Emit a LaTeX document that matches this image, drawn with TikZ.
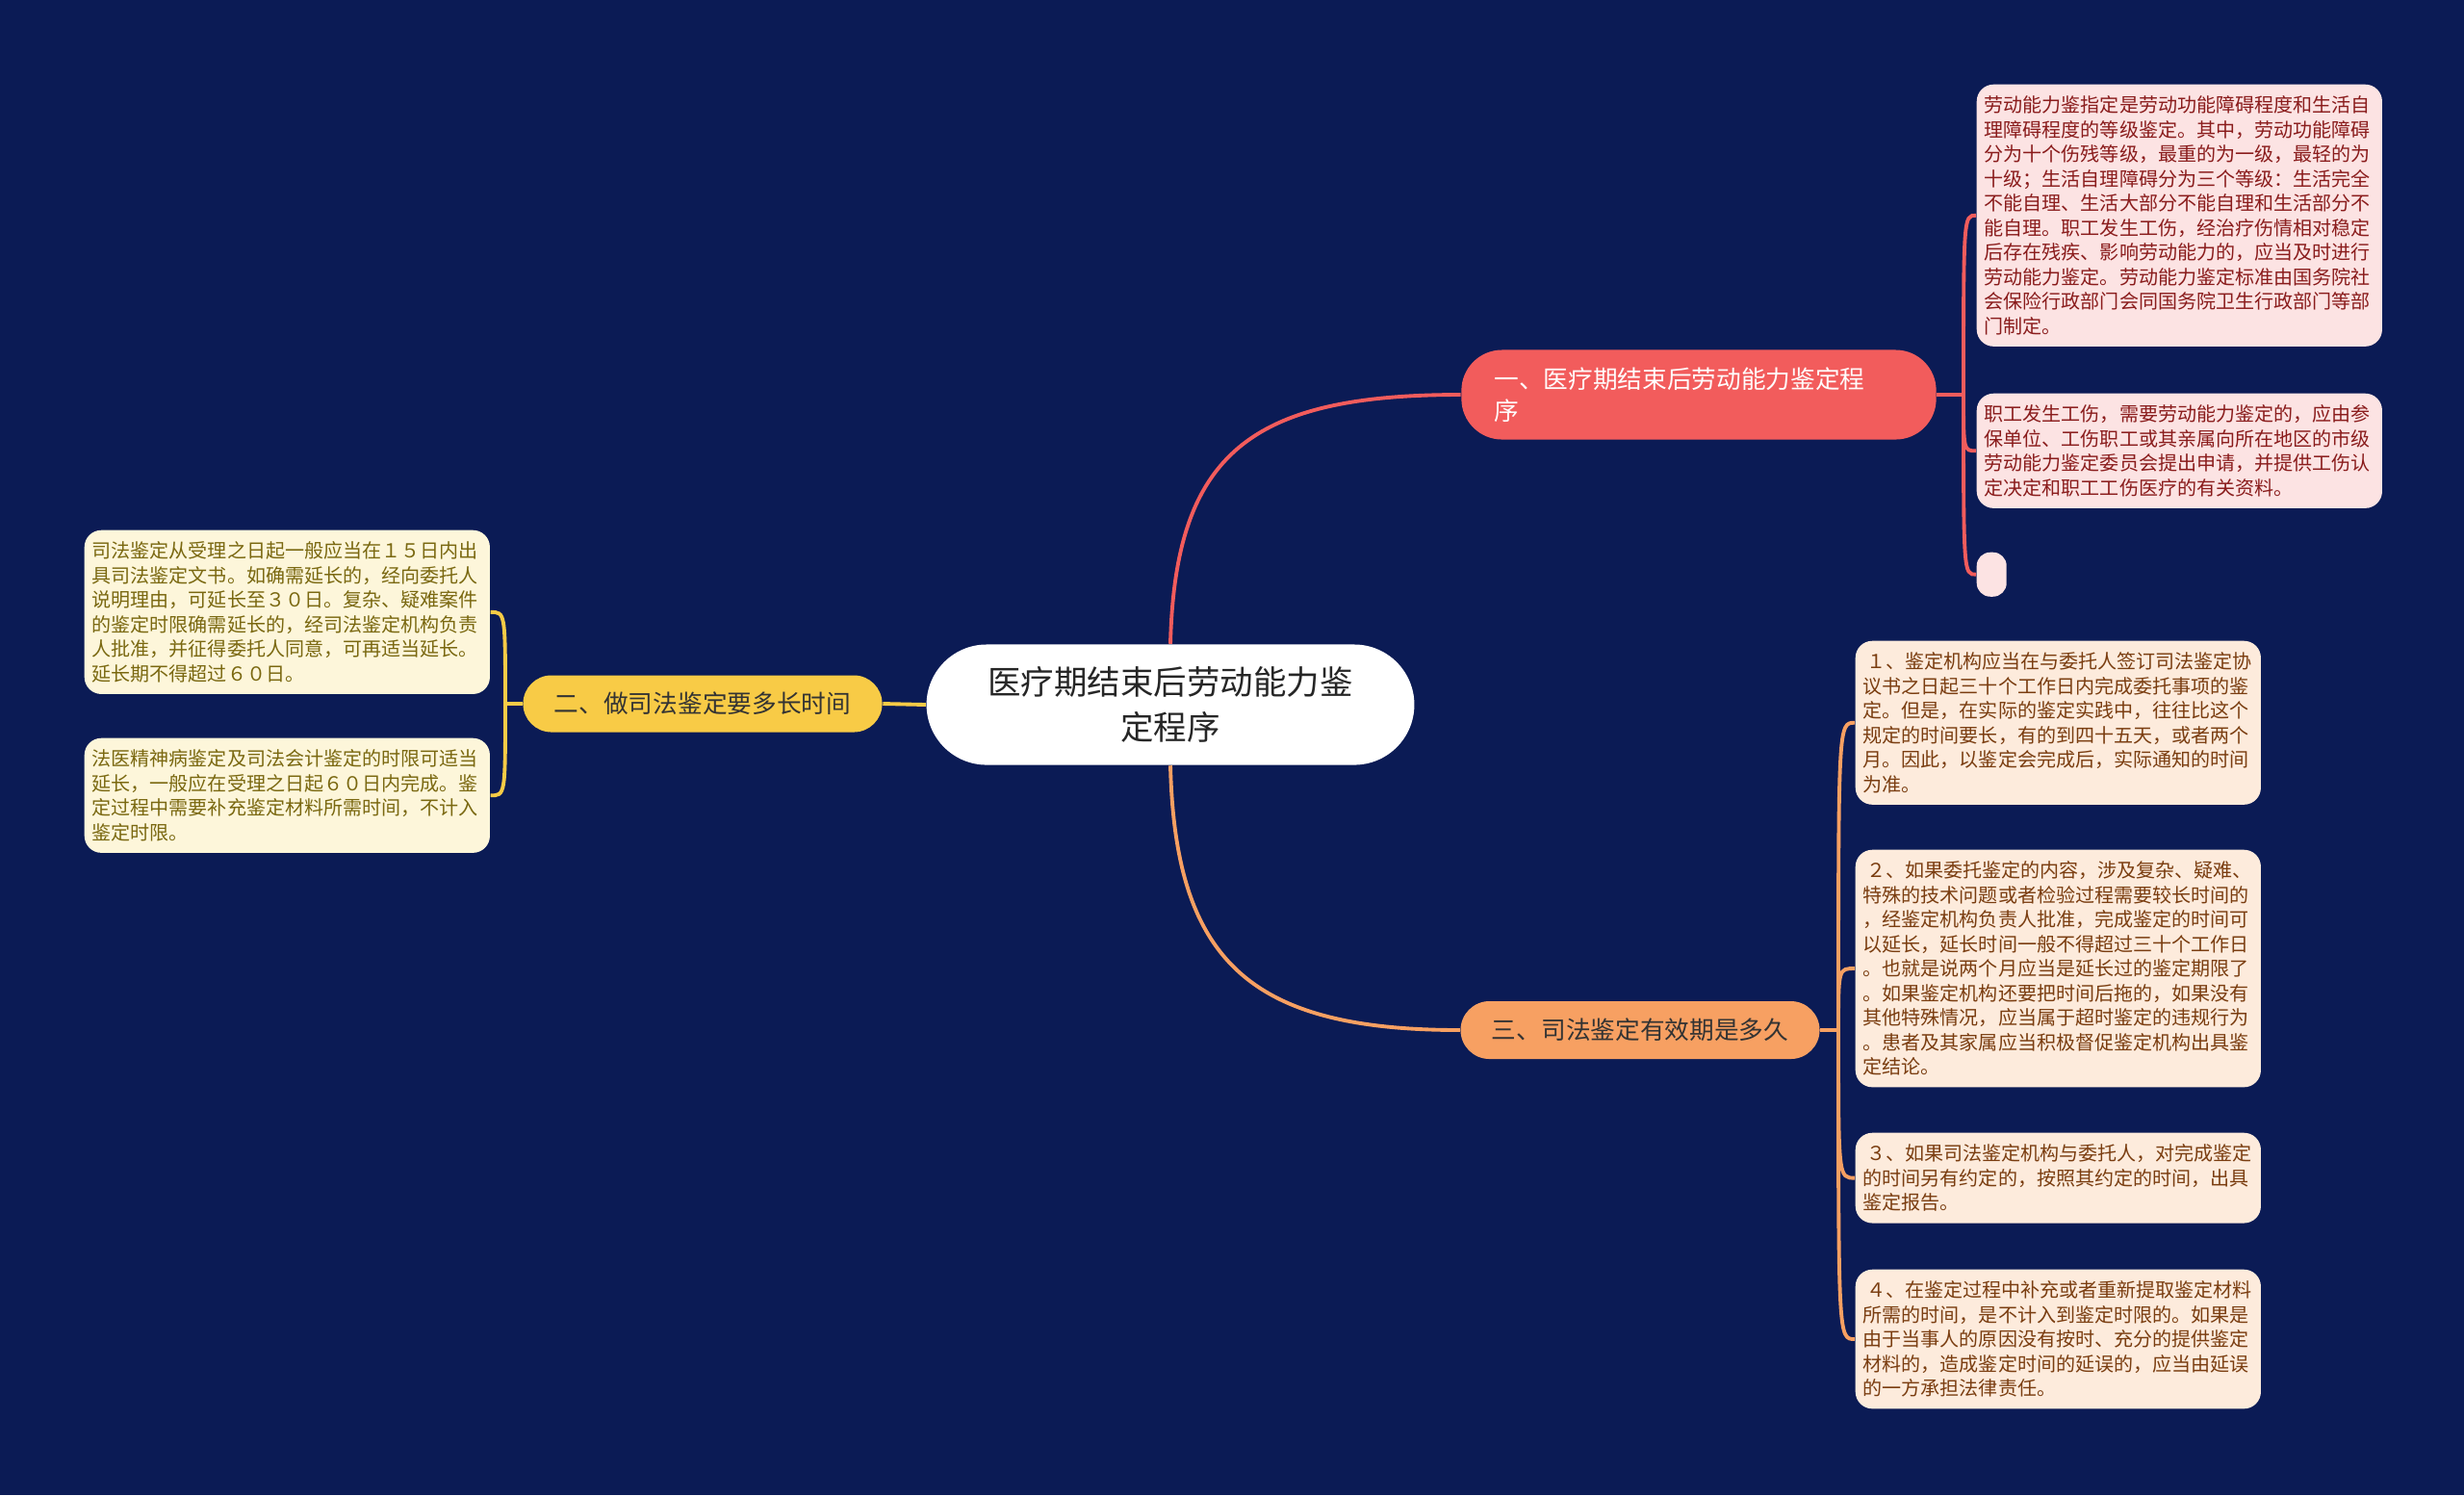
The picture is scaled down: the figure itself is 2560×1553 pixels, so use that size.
\documentclass[tikz,border=0pt]{standalone}
\usepackage{fontspec}
\usetikzlibrary{shapes.misc}
\setmainfont{Noto Sans CJK SC}
\begin{document}
\begin{tikzpicture}[x=0.01cm,y=-0.01cm,
 leaf/.style={anchor=north west,rounded corners=5pt,align=left,text width=4.05cm,inner xsep=0.08cm,inner ysep=0.12cm,font=\fontsize{5.7}{7.25}\selectfont},
 pinkleaf/.style={leaf,fill=leafpink,text=leafpinkt},
 peachleaf/.style={leaf,fill=leafpeach,text=leafpeacht},
 creamleaf/.style={leaf,fill=leafcream,text=leafcreamt},
 branch/.style={rounded rectangle,font=\fontsize{7.3}{9.5}\selectfont,inner xsep=0.3cm},
 conn/.style={line width=1.1pt}]
\definecolor{bg}{HTML}{0B1B55}
\definecolor{leafpink}{HTML}{FCE3E3}\definecolor{leafpinkt}{HTML}{8A1C1C}
\definecolor{leafpeach}{HTML}{FDEBDC}\definecolor{leafpeacht}{HTML}{7A3D10}
\definecolor{leafcream}{HTML}{FDF6DA}\definecolor{leafcreamt}{HTML}{7A6810}
\definecolor{cred}{HTML}{F25C5C}\definecolor{corange}{HTML}{F7A062}\definecolor{cyellow}{HTML}{F8CB46}
\fill[bg] (0,0) rectangle (2560,1553);
\useasboundingbox (0,0) rectangle (2560,1553);
% center
\node[fill=white,rounded rectangle,minimum width=5.3cm,minimum height=1.25cm,align=center,font=\fontsize{9.8}{13.5}\selectfont,text=black!85] (c) at (1216,732) {医疗期结束后劳动能力鉴\\定程序};
% branches
\node[fill=cred,rounded corners=12pt,font=\fontsize{7.3}{9.5}\selectfont,text=white!95!pink,minimum width=4.93cm,minimum height=0.93cm,text width=4.25cm,inner xsep=0.34cm,align=left] (b1) at (1765,410) {一、医疗期结束后劳动能力鉴定程\\序};
\node[branch,fill=cyellow,text=black!80,minimum width=3.7cm,minimum height=0.59cm] (b2) at (730,731) {二、做司法鉴定要多长时间};
\node[branch,fill=corange,text=black!80,minimum width=3.7cm,minimum height=0.6cm] (b3) at (1704,1070) {三、司法鉴定有效期是多久};
% leaves right top
\node[pinkleaf] (r1) at (2053,87) {劳动能力鉴指定是劳动功能障碍程度和生活自\\理障碍程度的等级鉴定。其中，劳动功能障碍\\分为十个伤残等级，最重的为一级，最轻的为\\十级；生活自理障碍分为三个等级：生活完全\\不能自理、生活大部分不能自理和生活部分不\\能自理。职工发生工伤，经治疗伤情相对稳定\\后存在残疾、影响劳动能力的，应当及时进行\\劳动能力鉴定。劳动能力鉴定标准由国务院社\\会保险行政部门会同国务院卫生行政部门等部\\门制定。};
\node[pinkleaf] (r2) at (2053,408) {职工发生工伤，需要劳动能力鉴定的，应由参\\保单位、工伤职工或其亲属向所在地区的市级\\劳动能力鉴定委员会提出申请，并提供工伤认\\定决定和职工工伤医疗的有关资料。};
\node[anchor=north west,fill=leafpink,rounded corners=4pt,minimum width=0.31cm,minimum height=0.46cm,inner sep=0pt] (r3) at (2053,573) {};
% leaves right bottom
\node[peachleaf] (s1) at (1927,665) {\,１、鉴定机构应当在与委托人签订司法鉴定协\\议书之日起三十个工作日内完成委托事项的鉴\\定。但是，在实际的鉴定实践中，往往比这个\\规定的时间要长，有的到四十五天，或者两个\\月。因此，以鉴定会完成后，实际通知的时间\\为准。};
\node[peachleaf] (s2) at (1927,882) {\,２、如果委托鉴定的内容，涉及复杂、疑难、\\特殊的技术问题或者检验过程需要较长时间的\\，经鉴定机构负责人批准，完成鉴定的时间可\\以延长，延长时间一般不得超过三十个工作日\\。也就是说两个月应当是延长过的鉴定期限了\\。如果鉴定机构还要把时间后拖的，如果没有\\其他特殊情况，应当属于超时鉴定的违规行为\\。患者及其家属应当积极督促鉴定机构出具鉴\\定结论。};
\node[peachleaf] (s3) at (1927,1176) {\,３、如果司法鉴定机构与委托人，对完成鉴定\\的时间另有约定的，按照其约定的时间，出具\\鉴定报告。};
\node[peachleaf] (s4) at (1927,1318) {\,４、在鉴定过程中补充或者重新提取鉴定材料\\所需的时间，是不计入到鉴定时限的。如果是\\由于当事人的原因没有按时、充分的提供鉴定\\材料的，造成鉴定时间的延误的，应当由延误\\的一方承担法律责任。};
% leaves left
\node[creamleaf] (l1) at (87,550) {司法鉴定从受理之日起一般应当在１５日内出\\具司法鉴定文书。如确需延长的，经向委托人\\说明理由，可延长至３０日。复杂、疑难案件\\的鉴定时限确需延长的，经司法鉴定机构负责\\人批准，并征得委托人同意，可再适当延长。\\延长期不得超过６０日。};
\node[creamleaf] (l2) at (87,766) {法医精神病鉴定及司法会计鉴定的时限可适当\\延长，一般应在受理之日起６０日内完成。鉴\\定过程中需要补充鉴定材料所需时间，不计入\\鉴定时限。};
% connectors center-branch
\draw[conn,cred] (c.north) .. controls (1221,470) and (1300,410) .. (b1.west);
\draw[conn,corange] (c.south) .. controls (1221,1000) and (1300,1070) .. (b3.west);
\draw[conn,cyellow] (c.west) -- (b2.east);
% branch-leaf connectors
\coordinate (p1) at (2040,410);
\draw[conn,cred] (b1.east) -- (p1);
\foreach \n in {r1,r2,r3}{\draw[conn,cred] (p1) .. controls (p1|-\n.west) .. (\n.west);}
\coordinate (p3) at (1910,1070);
\draw[conn,corange] (b3.east) -- (p3);
\foreach \n in {s1,s2,s3,s4}{\draw[conn,corange] (p3) .. controls (p3|-\n.west) .. (\n.west);}
\coordinate (p2) at (525,731);
\draw[conn,cyellow] (b2.west) -- (p2);
\foreach \n in {l1,l2}{\draw[conn,cyellow] (p2) .. controls (p2|-\n.east) .. (\n.east);}
\end{tikzpicture}
\end{document}
